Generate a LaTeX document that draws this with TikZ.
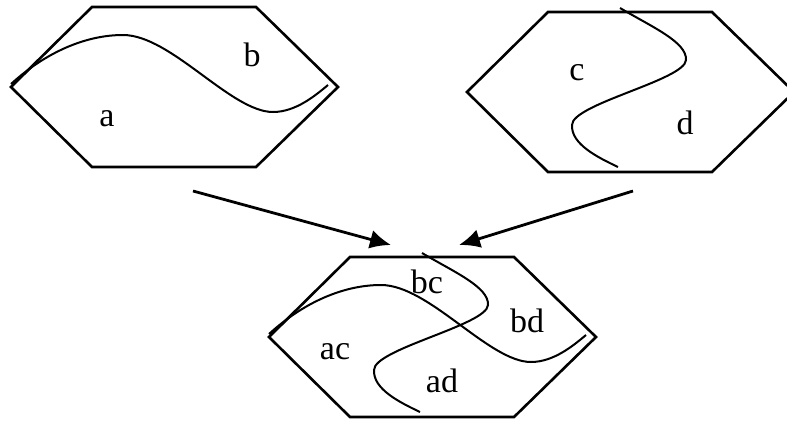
\documentclass[tikz,border=0pt]{standalone}
\usepackage{fontspec}
\setmainfont{Liberation Serif}
\usetikzlibrary{arrows.meta}
\tikzset{
  hexa/.style={line width=2.6pt, line join=miter},
  cut/.style={line width=2pt},
  lab/.style={inner sep=0pt, font=\fontsize{34}{37}\selectfont},
  arr/.style={line width=2.8pt, -{Latex[length=21pt,width=19pt]}}
}
\newcommand\hexpath{(0,0) -- (81,-80) -- (245,-80) -- (327,0) -- (245,80) -- (81,80) -- cycle}
\newcommand\curveAB{(0,-3) .. controls (35,-35) and (75,-52) .. (112,-52)
  .. controls (160,-52) and (220,25) .. (262,25)
  .. controls (285,25) and (305,8) .. (317,-2)}
\newcommand\curveCD{(153,-84) .. controls (185,-65) and (220,-50) .. (219,-32)
  .. controls (218,-12) and (105,12) .. (105,33)
  .. controls (104,52) and (130,65) .. (151,75)}
\begin{document}
\begin{tikzpicture}[x=1pt,y=-1pt]
\clip (0,0) rectangle (787,423);
% hexagon 1
\begin{scope}[shift={(11,87)}]
  \draw[hexa] \hexpath;
  \draw[cut] \curveAB;
\end{scope}
% hexagon 2
\begin{scope}[shift={(467,92)}]
  \draw[hexa] \hexpath;
  \draw[cut] \curveCD;
\end{scope}
% hexagon 3
\begin{scope}[shift={(269,337)}]
  \draw[hexa] \hexpath;
  \draw[cut] \curveAB;
  \draw[cut] \curveCD;
\end{scope}
% labels
\node[lab] (a) at (107,119) {a};
\node[lab] (b) at (252,55) {b};
\node[lab] (c) at (577,73) {c};
\node[lab] (d) at (685,123) {d};
\node[lab] (bc) at (427,282) {bc};
\node[lab] (bd) at (527,321) {bd};
\node[lab] (ac) at (335,352) {ac};
\node[lab] (ad) at (442,381) {ad};
% arrows
\coordinate (s1) at (193,191);
\coordinate (e1) at (391,245);
\coordinate (s2) at (633,191);
\coordinate (e2) at (459,245);
\draw[arr] (s1) -- (e1);
\draw[arr] (s2) -- (e2);
\end{tikzpicture}
\end{document}
